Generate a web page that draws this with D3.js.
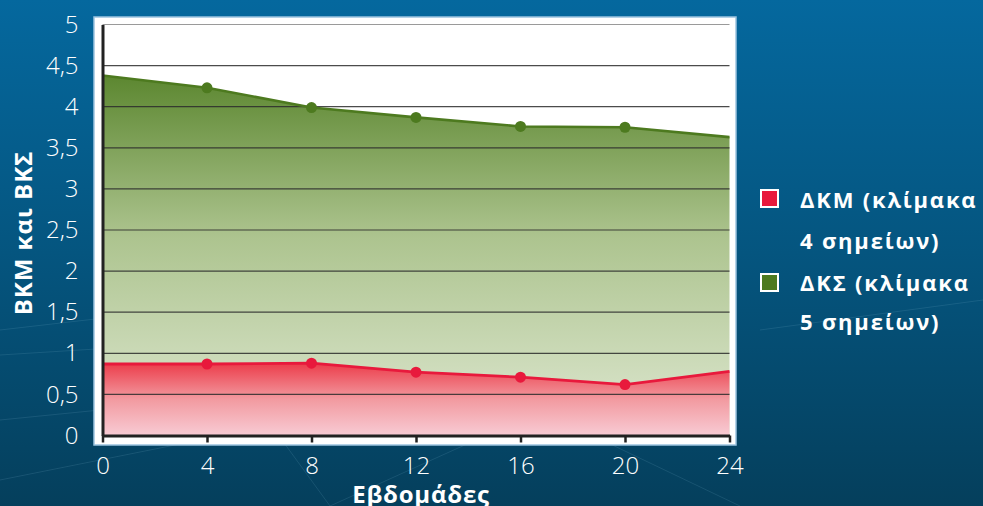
<!DOCTYPE html>
<html><head><meta charset="utf-8">
<script src="https://cdn.jsdelivr.net/npm/d3@7"></script>
<style>
html,body{margin:0;padding:0;background:#054a70;}
svg{display:block;font-family:"Open Sans","Noto Sans",sans-serif;}
</style></head>
<body><svg id="c" width="983" height="506"></svg>
<script>
const weeks = [0, 4, 8, 12, 16, 20, 24];
const dkm = [0.87, 0.87, 0.88, 0.77, 0.71, 0.62, 0.78];
const dks = [4.38, 4.23, 3.99, 3.87, 3.76, 3.75, 3.63];
const yTicks = [0, 0.5, 1, 1.5, 2, 2.5, 3, 3.5, 4, 4.5, 5];
const xTicks = [0, 4, 8, 12, 16, 20, 24];
const seriesNames = ["ΔΚΜ (κλίμακα", "4 σημείων)", "ΔΚΣ (κλίμακα", "5 σημείων)"];
const xTitle = "Εβδομάδες";
const yTitle = "ΒΚΜ και ΒΚΣ";

const svg = d3.select("#c");
const W = 983, H = 506;
const defs = svg.append("defs");

const bg = defs.append("linearGradient").attr("id","bg").attr("x1",0).attr("y1",0).attr("x2",0).attr("y2",1);
bg.append("stop").attr("offset","0").attr("stop-color","#05689e");
bg.append("stop").attr("offset","0.5").attr("stop-color","#05557f");
bg.append("stop").attr("offset","1").attr("stop-color","#053f5c");
svg.append("rect").attr("width",W).attr("height",H).attr("fill","url(#bg)");

// faint decorative lines
const deco = svg.append("g").attr("stroke","#7fb4d0").attr("stroke-opacity",0.16).attr("stroke-width",1);
[[0,330,260,300],[0,355,240,340],[0,420,300,390],[180,300,330,506],[330,506,520,420],[0,480,200,440],[560,420,740,506],[760,330,983,300]].forEach(l=>{
  deco.append("line").attr("x1",l[0]).attr("y1",l[1]).attr("x2",l[2]).attr("y2",l[3]);
});

const gG = defs.append("linearGradient").attr("id","gG").attr("x1",0).attr("y1",0).attr("x2",0).attr("y2",1);
gG.append("stop").attr("offset","0").attr("stop-color","#5c8730");
gG.append("stop").attr("offset","0.45").attr("stop-color","#adc48f");
gG.append("stop").attr("offset","1").attr("stop-color","#dfe8d2");
const rG = defs.append("linearGradient").attr("id","rG").attr("x1",0).attr("y1",0).attr("x2",0).attr("y2",1);
rG.append("stop").attr("offset","0").attr("stop-color","#ec3c4a");
rG.append("stop").attr("offset","0.5").attr("stop-color","#f29aa0");
rG.append("stop").attr("offset","1").attr("stop-color","#f8cbd4");

// white panel
svg.append("rect").attr("x",94).attr("y",17).attr("width",642).attr("height",428)
  .attr("fill","#ffffff").attr("stroke","#9cc4e0").attr("stroke-width",1.5);

const x = d3.scaleLinear().domain([0,24]).range([102.5,729.5]);
const y = d3.scaleLinear().domain([0,5]).range([435.5,24.5]);

const data = weeks.map((w,i)=>({w, a:dkm[i], b:dks[i]}));

svg.append("path").datum(data).attr("fill","url(#gG)")
  .attr("d", d3.area().x(d=>x(d.w)).y0(y(0)).y1(d=>y(d.b)));
svg.append("path").datum(data).attr("fill","url(#rG)")
  .attr("d", d3.area().x(d=>x(d.w)).y0(y(0)).y1(d=>y(d.a)));

// gridlines
svg.append("g").selectAll("line").data(yTicks.filter(t=>t>0)).join("line")
  .attr("x1",x(0)).attr("x2",x(24)).attr("y1",d=>y(d)).attr("y2",d=>y(d))
  .attr("stroke",d=>d===5?"#888":"#2b2b2b").attr("stroke-width",1.2).attr("stroke-opacity",0.85);

// lines
svg.append("path").datum(data).attr("fill","none").attr("stroke","#4d7a1f").attr("stroke-width",2.6)
  .attr("d", d3.line().x(d=>x(d.w)).y(d=>y(d.b)));
svg.append("path").datum(data).attr("fill","none").attr("stroke","#e8193c").attr("stroke-width",2.8)
  .attr("d", d3.line().x(d=>x(d.w)).y(d=>y(d.a)));

const inner = data.filter(d=>d.w>0 && d.w<24);
svg.append("g").selectAll("circle").data(inner).join("circle")
  .attr("cx",d=>x(d.w)).attr("cy",d=>y(d.b)).attr("r",5.5).attr("fill","#4d7a1f");
svg.append("g").selectAll("circle").data(inner).join("circle")
  .attr("cx",d=>x(d.w)).attr("cy",d=>y(d.a)).attr("r",5.5).attr("fill","#e8193c");

// axes
const xAxis = svg.append("g").attr("transform",`translate(0,${y(0)})`)
  .call(d3.axisBottom(x).tickValues(xTicks).tickSize(7).tickSizeOuter(0).tickFormat(d3.format("d")));
xAxis.select(".domain").attr("stroke","#222").attr("stroke-width",3);
xAxis.selectAll(".tick line").attr("stroke","#222").attr("stroke-width",2.5);
xAxis.selectAll(".tick text").attr("fill","#fff").attr("font-size",24).attr("font-weight",300)
  .attr("y",38.5).attr("dy",0).attr("font-family","'Open Sans',sans-serif");

const fmt = v => String(v).replace(".", ",");
const yAxis = svg.append("g").attr("transform",`translate(${x(0)},0)`)
  .call(d3.axisLeft(y).tickValues(yTicks).tickSize(0).tickFormat(fmt));
yAxis.select(".domain").attr("stroke","#222").attr("stroke-width",3);
yAxis.selectAll(".tick text").attr("fill","#fff").attr("font-size",24).attr("font-weight",300)
  .attr("x",-24).attr("font-family","'Open Sans',sans-serif");

// titles
svg.append("text").attr("x",421).attr("y",503).attr("text-anchor","middle")
  .attr("fill","#fff").attr("font-size",24).attr("font-weight",700).attr("letter-spacing",0.8).text(xTitle);
svg.append("text").attr("transform","translate(32,233) rotate(-90)").attr("text-anchor","middle")
  .attr("fill","#fff").attr("font-size",24).attr("font-weight",700).attr("letter-spacing",1).text(yTitle);

// legend
const leg = svg.append("g");
const legItems = [
  {c:"#e8193c", sy:190, lines:[seriesNames[0],seriesNames[1]], by:[208,249]},
  {c:"#4d7a1f", sy:274, lines:[seriesNames[2],seriesNames[3]], by:[291,330]}
];
legItems.forEach(it=>{
  leg.append("rect").attr("x",761).attr("y",it.sy).attr("width",17).attr("height",17)
    .attr("fill",it.c).attr("stroke","#fff").attr("stroke-width",2);
  it.lines.forEach((t,i)=>{
    leg.append("text").attr("x",800).attr("y",it.by[i]).attr("fill","#fff")
      .attr("font-size",22).attr("font-weight",700).attr("letter-spacing",1.8).text(t);
  });
});
</script></body></html>
